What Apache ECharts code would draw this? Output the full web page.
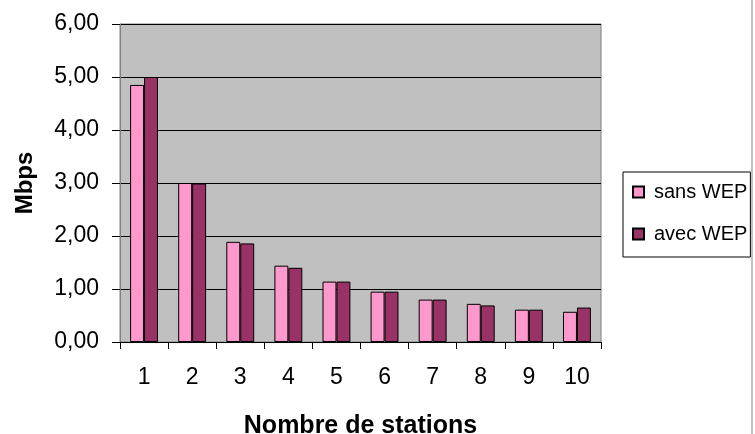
<!DOCTYPE html>
<html>
<head>
<meta charset="utf-8">
<script src="https://cdn.jsdelivr.net/npm/echarts@6/dist/echarts.min.js"></script>
<style>
html,body{margin:0;padding:0;background:#fff;overflow:hidden;}
#c{width:755px;height:434px;}
</style>
</head>
<body>
<div id="c"></div>
<script>
const categories = ['1','2','3','4','5','6','7','8','9','10'];
const sansWEP = [4.85, 3.00, 1.89, 1.44, 1.14, 0.95, 0.80, 0.72, 0.61, 0.57];
const avecWEP = [5.00, 2.99, 1.86, 1.40, 1.14, 0.95, 0.80, 0.69, 0.61, 0.65];
const yTicks = [0, 1, 2, 3, 4, 5, 6];

const chart = echarts.init(document.getElementById('c'));
const font = 'Liberation Sans, Arial, sans-serif';
chart.setOption({
  animation: false,
  backgroundColor: '#fff',
  textStyle: { fontFamily: font, color: '#000' },
  grid: {
    left: 120, top: 24, width: 481, height: 318,
    outerBoundsMode: 'none',
    containLabel: false,
    show: true, backgroundColor: '#C0C0C0', borderColor: '#808080', borderWidth: 1
  },
  legend: {
    orient: 'vertical',
    left: 623, top: 172,
    padding: [9, 3, 12, 9],
    backgroundColor: '#fff',
    borderColor: '#000', borderWidth: 1,
    itemWidth: 11, itemHeight: 11,
    itemGap: 20,
    icon: 'rect',
    textStyle: { fontSize: 20, lineHeight: 22, fontFamily: font, color: '#000', padding: [0, 0, 0, 5] },
    data: ['sans WEP', 'avec WEP']
  },
  xAxis: {
    type: 'category',
    data: categories,
    name: 'Nombre de stations',
    nameLocation: 'middle',
    nameGap: 72,
    nameTextStyle: { fontSize: 25, fontWeight: 'bold', fontFamily: font, color: '#000' },
    axisLine: { lineStyle: { color: '#000', width: 1 } },
    axisTick: { show: true, length: 7, inside: false, lineStyle: { color: '#000' } },
    axisLabel: { fontSize: 23, margin: 24, color: '#000', fontFamily: font }
  },
  yAxis: {
    type: 'value',
    min: 0, max: 6, interval: 1,
    name: 'Mbps',
    nameLocation: 'middle',
    nameGap: 83,
    nameRotate: 90,
    nameTextStyle: { fontSize: 24, fontWeight: 'bold', fontFamily: font, color: '#000' },
    axisLine: { show: true, lineStyle: { color: '#808080', width: 1 } },
    axisTick: { show: true, length: 8, lineStyle: { color: '#000' } },
    axisLabel: {
      fontSize: 23, margin: 21, color: '#000', fontFamily: font,
      formatter: v => yTicks.includes(v) ? v.toFixed(2).replace('.', ',') : ''
    },
    splitLine: { show: true, lineStyle: { color: '#000', width: 1 } }
  },
  series: [
    {
      name: 'sans WEP', type: 'bar', data: sansWEP,
      barGap: '0%', barCategoryGap: '42%',
      itemStyle: { color: '#FF99CC', borderColor: '#000', borderWidth: 1 }
    },
    {
      name: 'avec WEP', type: 'bar', data: avecWEP,
      barGap: '0%', barCategoryGap: '42%',
      itemStyle: { color: '#993366', borderColor: '#000', borderWidth: 1 }
    }
  ],
  graphic: [
    { type: 'line', shape: { x1: 752, y1: 0, x2: 752, y2: 434 }, style: { stroke: '#808080', lineWidth: 1 } }
  ]
});
</script>
</body>
</html>
